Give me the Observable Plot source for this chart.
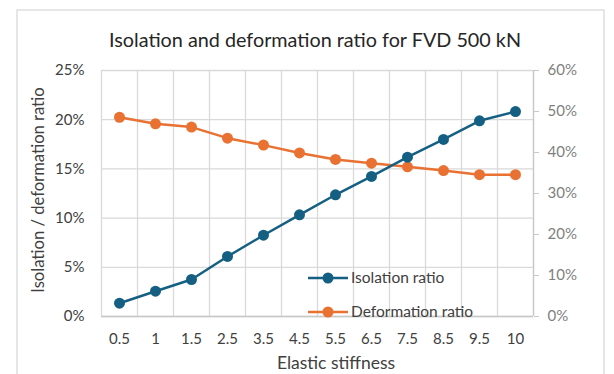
<!DOCTYPE html>
<html>
<head>
<meta charset="utf-8">
<script src="https://cdn.jsdelivr.net/npm/d3@7"></script>
<script src="https://cdn.jsdelivr.net/npm/@observablehq/plot@0.6"></script>
<style>
  html, body { margin: 0; padding: 0; background: #fff; }
  #chart { width: 614px; height: 374px; }
</style>
</head>
<body>
<div id="chart"></div>
<script>
const categories = ["0.5","1","1.5","2.5","3.5","4.5","5.5","6.5","7.5","8.5","9.5","10"];
const isolationRatio = [0.0135,0.0257,0.0376,0.061,0.0826,0.1033,0.1237,0.1423,0.1619,0.1799,0.1989,0.2083];
const deformationRatio = [0.486,0.470,0.462,0.435,0.418,0.399,0.383,0.374,0.365,0.356,0.346,0.346];
const leftTicks = [0,0.05,0.10,0.15,0.20,0.25];
const rightTicks = [0,0.1,0.2,0.3,0.4,0.5,0.6];

const LEFT_MAX = 0.25, RIGHT_MAX = 0.6;
const toLeft = v => v * LEFT_MAX / RIGHT_MAX;

const blue = "#156082", orange = "#E97132";
const font = "Lato, 'Open Sans', sans-serif";

const iso = categories.map((c, i) => ({i, v: isolationRatio[i]}));
const def = categories.map((c, i) => ({i, v: toLeft(deformationRatio[i])}));
const bounds = d3.range(categories.length + 1).map(i => i - 0.5);

const pct = v => Math.round(v * 100) + "%";

const plot = Plot.plot({
  width: 614,
  height: 374,
  marginLeft: 101,
  marginRight: 81,
  marginTop: 70,
  marginBottom: 58,
  style: {fontFamily: font, fontSize: "14px", background: "#fff"},
  x: {type: "linear", domain: [-0.5, categories.length - 0.5]},
  y: {domain: [0, LEFT_MAX]},
  marks: [
    Plot.ruleY(leftTicks, {stroke: "#d9d9d9", strokeWidth: 1.3}),
    Plot.ruleX(bounds, {stroke: "#d9d9d9", strokeWidth: 1.3}),
    Plot.ruleY([0], {stroke: "#c8c8c8", strokeWidth: 1.3}),
    Plot.ruleX([categories.length - 0.5], {stroke: "#c8c8c8", strokeWidth: 1.3}),
    Plot.axisY({ticks: leftTicks, tickFormat: pct, tickSize: 0, tickPadding: 17, fill: "#404040", label: null, fontSize: 15}),
    Plot.axisY({anchor: "right", ticks: rightTicks.map(toLeft), tickFormat: (d, k) => pct(rightTicks[k]), tickSize: 5, tickPadding: 9, stroke: "#c8c8c8", fill: "#7f7f7f", label: null, fontSize: 15}),
    Plot.axisX({ticks: d3.range(categories.length), tickFormat: i => categories[i], tickSize: 0, tickPadding: 17, fill: "#404040", label: null, fontSize: 15}),
    Plot.line(def, {x: "i", y: "v", stroke: orange, strokeWidth: 2.5}),
    Plot.dot(def, {x: "i", y: "v", r: 5.5, fill: orange}),
    Plot.line(iso, {x: "i", y: "v", stroke: blue, strokeWidth: 2.5}),
    Plot.dot(iso, {x: "i", y: "v", r: 5.5, fill: blue})
  ]
});

document.getElementById("chart").appendChild(plot);

const svg = d3.select(plot);
// outer chart border
svg.insert("rect", ":first-child")
  .attr("x", 17).attr("y", 10).attr("width", 587).attr("height", 380)
  .attr("fill", "#fff").attr("stroke", "#d9d9d9").attr("stroke-width", 1.3);

svg.append("text")
  .attr("x", 315).attr("y", 47)
  .attr("text-anchor", "middle")
  .attr("font-size", 19.8).attr("fill", "#262626").attr("font-family", font)
  .text("Isolation and deformation ratio for FVD 500 kN");

svg.append("text")
  .attr("transform", "translate(44,190) rotate(-90)")
  .attr("text-anchor", "middle")
  .attr("font-size", 16.6).attr("fill", "#404040").attr("font-family", font)
  .text("Isolation / deformation ratio");

svg.append("text")
  .attr("x", 336).attr("y", 369)
  .attr("text-anchor", "middle")
  .attr("font-size", 17.5).attr("fill", "#404040").attr("font-family", font)
  .text("Elastic stiffness");

// legend
const legend = [
  {name: "Isolation ratio", color: blue, y: 278},
  {name: "Deformation ratio", color: orange, y: 312}
];
legend.forEach(d => {
  const g = svg.append("g");
  g.append("path").attr("d", `M308,${d.y}H348`)
    .attr("fill", "none").attr("stroke", d.color).attr("stroke-width", 2.5);
  g.append("circle").attr("cx", 328).attr("cy", d.y).attr("r", 5.5).attr("fill", d.color);
  g.append("text").attr("x", 351).attr("y", d.y + 5)
    .attr("text-anchor", "start")
    .attr("font-size", 15.5).attr("fill", "#404040").attr("font-family", font)
    .text(d.name);
});
</script>
</body>
</html>
